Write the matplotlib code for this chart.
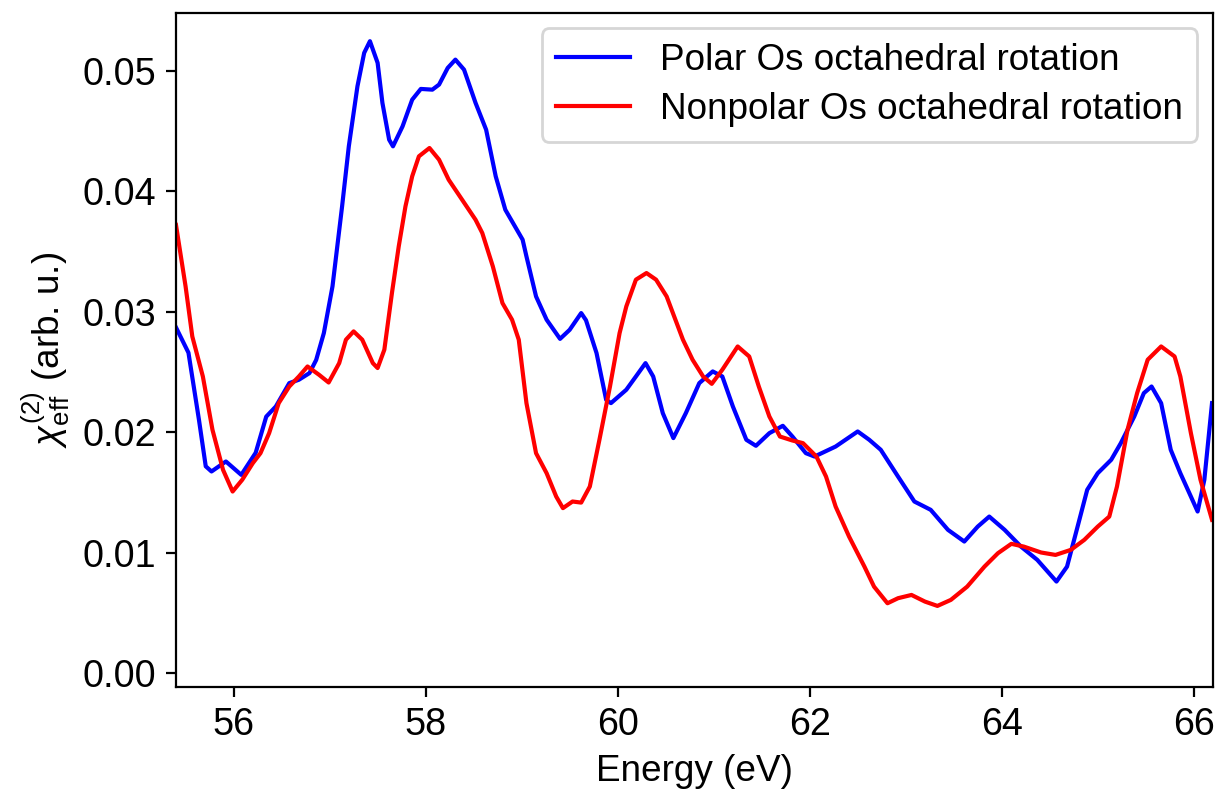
import matplotlib
matplotlib.use("Agg")
from matplotlib import pyplot as plt

plt.rcParams['font.family'] = ['Liberation Sans', 'DejaVu Sans']
plt.rcParams['mathtext.fontset'] = 'custom'
plt.rcParams['mathtext.rm'] = 'Liberation Sans'
plt.rcParams['mathtext.it'] = 'Liberation Sans:italic'

# polar Os octahedral rotation
energy_polar = [55.40, 55.53, 55.64, 55.71, 55.77, 55.92, 56.08, 56.23, 56.34, 56.44,
                56.58, 56.68, 56.79, 56.86, 56.94, 57.03, 57.13, 57.20, 57.29, 57.36,
                57.42, 57.50, 57.55, 57.62, 57.66, 57.76, 57.86, 57.95, 58.07, 58.14,
                58.23, 58.31, 58.40, 58.52, 58.63, 58.73, 58.83, 59.01, 59.05, 59.15,
                59.26, 59.40, 59.50, 59.62, 59.67, 59.78, 59.88, 59.93, 60.09, 60.19,
                60.29, 60.37, 60.47, 60.58, 60.71, 60.85, 60.99, 61.09, 61.20, 61.34,
                61.44, 61.58, 61.72, 61.82, 61.96, 62.05, 62.27, 62.50, 62.62, 62.74,
                62.92, 63.09, 63.26, 63.44, 63.61, 63.75, 63.87, 64.03, 64.20, 64.37,
                64.57, 64.68, 64.79, 64.89, 65.00, 65.14, 65.24, 65.38, 65.48, 65.56,
                65.66, 65.76, 65.86, 65.97, 66.04, 66.11, 66.19]
chi_polar = [0.0287, 0.0266, 0.0210, 0.01718, 0.01675, 0.01758, 0.01647, 0.0183, 0.0213, 0.02214,
             0.02408, 0.02436, 0.02491, 0.0260, 0.02823, 0.0321, 0.03874, 0.04372, 0.0487, 0.05147,
             0.05244, 0.05064, 0.04732, 0.04427, 0.04372, 0.04538, 0.04759, 0.04848, 0.04842, 0.04884,
             0.05022, 0.05091, 0.05008, 0.04732, 0.0451, 0.04123, 0.03846, 0.03598, 0.03459, 0.03127,
             0.02934, 0.02775, 0.0285, 0.02989, 0.0293, 0.02657, 0.0227, 0.02242, 0.02353, 0.02463,
             0.02574, 0.02463, 0.02159, 0.01952, 0.02159, 0.02408, 0.02505, 0.02463, 0.02214, 0.01938,
             0.01888, 0.01993, 0.02054, 0.01965, 0.01827, 0.01799, 0.01882, 0.02007, 0.01938, 0.01855,
             0.01633, 0.01426, 0.01357, 0.01191, 0.01094, 0.01218, 0.01301, 0.01191, 0.01052, 0.00942,
             0.00762, 0.00886, 0.01218, 0.01523, 0.01661, 0.01772, 0.0191, 0.02131, 0.02325, 0.0238,
             0.02242, 0.01855, 0.01661, 0.01467, 0.01343, 0.01606, 0.02242]

# nonpolar Os octahedral rotation
energy_nonpolar = [55.40, 55.50, 55.57, 55.68, 55.78, 55.89, 55.99, 56.09, 56.20, 56.28,
                   56.37, 56.47, 56.58, 56.68, 56.77, 56.89, 56.99, 57.10, 57.17, 57.25,
                   57.34, 57.45, 57.50, 57.57, 57.65, 57.72, 57.79, 57.86, 57.93, 58.04,
                   58.14, 58.24, 58.38, 58.52, 58.59, 58.70, 58.80, 58.90, 58.97, 59.05,
                   59.15, 59.26, 59.36, 59.43, 59.53, 59.62, 59.71, 59.81, 59.92, 60.02,
                   60.09, 60.19, 60.30, 60.40, 60.51, 60.57, 60.68, 60.78, 60.89, 60.98,
                   61.09, 61.25, 61.37, 61.47, 61.58, 61.69, 61.82, 61.93, 62.07, 62.17,
                   62.27, 62.41, 62.57, 62.67, 62.81, 62.92, 63.06, 63.20, 63.33, 63.47,
                   63.64, 63.82, 63.96, 64.10, 64.23, 64.41, 64.56, 64.72, 64.86, 65.00,
                   65.12, 65.20, 65.31, 65.41, 65.52, 65.66, 65.80, 65.86, 65.97, 66.07,
                   66.19]
chi_nonpolar = [0.0372, 0.0321, 0.02795, 0.02463, 0.02021, 0.01689, 0.01509, 0.01606, 0.01744, 0.01827,
                0.01993, 0.02242, 0.0238, 0.02463, 0.02546, 0.02477, 0.02413, 0.02574, 0.02768, 0.02837,
                0.02768, 0.02574, 0.02533, 0.02685, 0.0316, 0.03542, 0.03874, 0.04123, 0.04289, 0.04358,
                0.04261, 0.04095, 0.03929, 0.03763, 0.03653, 0.03376, 0.03072, 0.02934, 0.02768, 0.02242,
                0.01827, 0.01661, 0.01467, 0.01371, 0.01426, 0.01417, 0.0155, 0.01938, 0.0238, 0.02823,
                0.03044, 0.03266, 0.03321, 0.03266, 0.03127, 0.0300, 0.02768, 0.02602, 0.02463, 0.02402,
                0.02519, 0.02712, 0.02629, 0.0238, 0.02131, 0.01965, 0.01932, 0.0191, 0.01799, 0.01633,
                0.01384, 0.01135, 0.00886, 0.0072, 0.00582, 0.00624, 0.00651, 0.00596, 0.0056, 0.0061,
                0.0072, 0.00886, 0.00997, 0.01075, 0.01052, 0.01003, 0.00983, 0.01025, 0.01108, 0.01218,
                0.01301, 0.0155, 0.02021, 0.02325, 0.02602, 0.02712, 0.02629, 0.02463, 0.01993, 0.01606,
                0.01274]

fig = plt.figure(figsize=(6.085, 3.955), dpi=200)
ax = fig.add_axes([0.1446, 0.1311, 0.8521, 0.8528])

ax.plot(energy_polar, chi_polar, color='blue', lw=1.5, solid_joinstyle='round',
        label='Polar Os octahedral rotation')
ax.plot(energy_nonpolar, chi_nonpolar, color='red', lw=1.5, solid_joinstyle='round',
        label='Nonpolar Os octahedral rotation')

ax.set_xlim(55.4, 66.2)
ax.set_ylim(-0.00115, 0.0548)
ax.set_xticks([56, 58, 60, 62, 64, 66])
ax.set_yticks([0.0, 0.01, 0.02, 0.03, 0.04, 0.05])
ax.set_yticklabels(['0.00', '0.01', '0.02', '0.03', '0.04', '0.05'])
ax.tick_params(labelsize=13.6)

ax.set_xlabel('Energy (eV)', fontsize=13.3)
ax.set_ylabel(r'$\chi^{(2)}_{\mathrm{eff}}$ (arb. u.)', fontsize=13.3)
ax.legend(loc='upper right', fontsize=13.3, labelspacing=0.38, borderaxespad=0.42)

plt.savefig('out.png', dpi=200)
